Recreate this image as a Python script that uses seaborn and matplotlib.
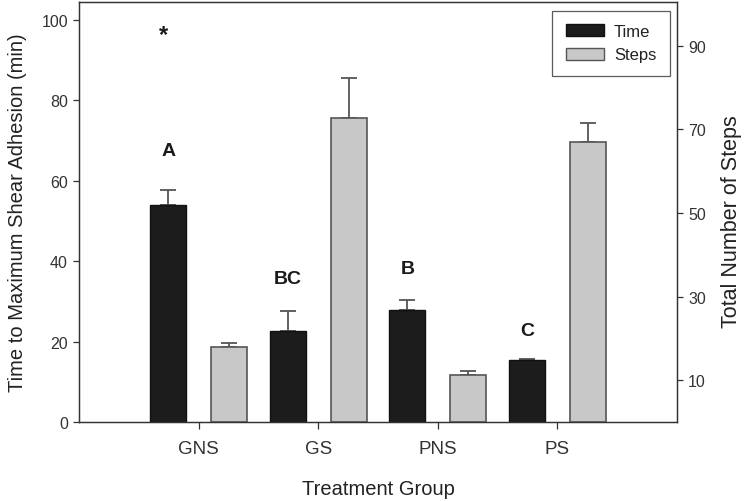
import pandas as pd
import matplotlib
matplotlib.use("Agg")
import matplotlib.pyplot as plt
from matplotlib.patches import Patch
import seaborn as sns
import numpy as np

# ── data ──────────────────────────────────────────────────────────────────────
groups      = ["GNS", "GS", "PNS", "PS"]
time_mean   = [54.1, 22.7, 27.8, 15.4]     # minutes (left axis)
time_err    = [3.7, 5.0, 2.5, 0.3]
steps_mean  = [18.0, 72.7, 11.3, 67.1]     # steps (right axis)
steps_err   = [1.0, 9.7, 0.8, 4.4]
letters     = ["A", "BC", "B", "C"]
letter_y    = [67.5, 35.7, 38.1, 22.7]

TIME_COLOR  = "#1c1c1c"
STEPS_COLOR = "#c8c8c8"
EDGE_COLOR  = "#555555"

sns.set_style("ticks")
plt.rcParams["font.family"] = ["Liberation Sans", "DejaVu Sans"]
plt.rcParams["axes.edgecolor"] = "#333333"
plt.rcParams["xtick.color"] = "#333333"
plt.rcParams["ytick.color"] = "#333333"
plt.rcParams["text.color"] = "#222222"
plt.rcParams["axes.labelcolor"] = "#222222"

df = pd.DataFrame({
    "group":  groups * 2,
    "series": ["Time"] * 4 + ["Steps"] * 4,
    "value":  time_mean + steps_mean,
})
hue_order = ["Time", "Steps"]

fig = plt.figure(figsize=(7.45, 5.02), dpi=100)
ax1 = fig.add_axes([79 / 745, 1 - 423 / 502, 598 / 745, 420 / 502])
ax2 = ax1.twinx()

sns.barplot(data=df[df.series == "Time"], x="group", y="value", hue="series",
            hue_order=hue_order, order=groups, palette=[TIME_COLOR, STEPS_COLOR],
            dodge=True, width=1.02, gap=0.41, errorbar=None, legend=False, ax=ax1,
            edgecolor="#111111", linewidth=1)
sns.barplot(data=df[df.series == "Steps"], x="group", y="value", hue="series",
            hue_order=hue_order, order=groups, palette=[TIME_COLOR, STEPS_COLOR],
            dodge=True, width=1.02, gap=0.41, errorbar=None, legend=False, ax=ax2,
            edgecolor=EDGE_COLOR, linewidth=1.2)

# one-sided error bars
for ax, means, errs in [(ax1, time_mean, time_err), (ax2, steps_mean, steps_err)]:
    bars = sorted(ax.patches, key=lambda p: p.get_x())
    xs = [p.get_x() + p.get_width() / 2 for p in bars]
    ax.errorbar(xs, means, yerr=[np.zeros(len(errs)), errs], fmt="none",
                ecolor=EDGE_COLOR, elinewidth=1.3, capsize=6, capthick=1.3, zorder=0)

# significance letters above Time bars
time_bars = sorted(ax1.patches, key=lambda p: p.get_x())
for p, lab, ly in zip(time_bars, letters, letter_y):
    ax1.text(p.get_x() + p.get_width() / 2, ly, lab, ha="center", va="center",
             fontsize=14, fontweight="bold", color="#1a1a1a")
p0 = time_bars[0]
ax1.text(p0.get_x() + p0.get_width() / 2 - 0.04, 96.5, "*", ha="center",
         va="center", fontsize=17, fontweight="bold", color="#1a1a1a")

ax1.set_xlim(-1, 4)
ax2.set_xlim(-1, 4)
ax1.set_ylim(0, 104.5)
ax1.set_yticks(np.arange(0, 101, 20))
ax2.set_ylim(0, 100.5)
ax2.set_yticks(np.arange(10, 91, 20))

ax1.set_xlabel("Treatment Group", fontsize=14.5)
ax1.set_ylabel("Time to Maximum Shear Adhesion (min)", fontsize=14.5)
ax2.set_ylabel("Total Number of Steps", fontsize=15.5)
ax2.set_xlabel("")
ax1.xaxis.set_label_coords(0.5, -0.135)
ax1.yaxis.set_label_coords(-0.087, 0.5)
ax2.yaxis.set_label_coords(1.073, 0.479)

for ax in (ax1, ax2):
    ax.tick_params(axis="y", labelsize=11.5, length=4, width=0.9, pad=4)
    for s in ax.spines.values():
        s.set_visible(True)
        s.set_linewidth(0.9)
ax1.tick_params(axis="x", labelsize=13.5, length=5, width=0.9, pad=8)

handles = [Patch(facecolor=TIME_COLOR, edgecolor="#111111", label="Time"),
           Patch(facecolor=STEPS_COLOR, edgecolor=EDGE_COLOR, label="Steps")]
leg = ax2.legend(handles=handles, loc="upper right", bbox_to_anchor=(0.988, 0.979),
                 borderaxespad=0, fancybox=False, frameon=True, fontsize=12,
                 handlelength=2.3, handleheight=0.72, borderpad=0.8, labelspacing=0.5,
                 handletextpad=0.6)
leg.get_frame().set_edgecolor("#333333")
leg.get_frame().set_linewidth(0.9)

fig.savefig("out.png", dpi=100)
